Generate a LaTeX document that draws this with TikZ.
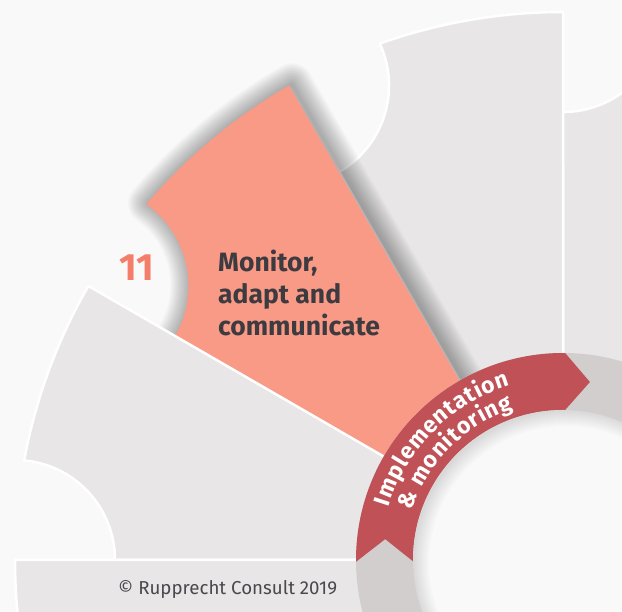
\documentclass[tikz,border=0pt]{standalone}
\usepackage{fontspec}
\setmainfont{Fira Sans}
\usetikzlibrary{decorations.text}
\definecolor{bgc}{HTML}{F9F9F9}
\definecolor{segc}{HTML}{E8E6E7}
\definecolor{salmonc}{HTML}{F99A86}
\definecolor{ribbonc}{HTML}{BF5157}
\definecolor{ringc}{HTML}{D1CECD}
\definecolor{darkc}{HTML}{3D3B40}
\definecolor{numc}{HTML}{F47E6A}
\definecolor{copyc}{HTML}{4A484C}
\newcommand\drawseg[3]{%
  \path[#1] (#2:200pt) -- (#2:548pt)
    arc[start angle=#2, end angle=#3-10.47, radius=548pt]
    arc[start angle=#3+264.765, end angle=#3+180, radius=100pt]
    -- (#3:200pt)
    arc[start angle=#3, end angle=#2, radius=200pt] -- cycle;}
\newcommand\ribbonfont{\fontsize{23}{23}\selectfont\bfseries}
\newcommand\ks{\kern0.8pt}
\begin{document}
\begin{tikzpicture}[x=1pt,y=1pt,
  grayseg/.style={fill=segc, draw=white, line width=2.5pt, line join=round},
  shadowstroke/.style={draw=black, draw opacity=0.023, line width=#1, line join=round, shift={(3,1)}},
  ribbontext/.style={decorate, decoration={text along path, text color=white, text align=center, text={#1}}}]
\useasboundingbox (0,0) rectangle (622,612);
\clip (0,0) rectangle (622,612);
\fill[bgc] (0,0) rectangle (622,612);
\begin{scope}[shift={(563,52)}]
  \drawseg{grayseg}{30}{60}
  \drawseg{grayseg}{60}{90}
  \drawseg{grayseg}{90}{120}
  % soft shadow of the highlighted segment
  \foreach \k in {1,...,14}{\drawseg{shadowstroke=\k*3pt}{120}{150}}
  \drawseg{fill=salmonc}{120}{150}
  \drawseg{grayseg}{150}{180}
  \drawseg{grayseg}{180}{210}
  % ring
  \fill[ringc] (0,0) circle (207pt);
  % ribbon
  \fill[ribbonc] (89.4:207pt) arc[start angle=89.4, end angle=180.5, radius=207pt]
    -- (173.3:179pt) -- (180.5:150pt)
    arc[start angle=180.5, end angle=89.2, radius=150pt]
    -- (81.4:180pt) -- cycle;
  % inner circle with soft inner shadow
  \fill[bgc] (0,0) circle (150pt);
  \begin{scope}
    \clip (0,0) circle (150pt);
    \foreach \k in {1,...,8}
      \draw[black, opacity=0.014, line width=\k*4pt] (3,-3) circle (153pt);
  \end{scope}
  % ribbon texts
  \path[ribbontext={|\ribbonfont|{I\ks}{m\ks}{p\ks}{l\ks}{e\ks}{m\ks}{e\ks}{n\ks}{t\ks}{a\ks}{t\ks}{i\ks}{o\ks}{n}}]
    (175:182pt) arc[start angle=175, end angle=95, radius=182pt];
  \path[ribbontext={|\ribbonfont|{\&\ks}{\ \ks}{m\ks}{o\ks}{n\ks}{i\ks}{t\ks}{o\ks}{r\ks}{i\ks}{n\ks}{g}}]
    (175:159pt) arc[start angle=175, end angle=95, radius=159pt];
\end{scope}
% texts
\node[anchor=base, text=numc, font=\fontsize{38}{38}\selectfont\bfseries, inner sep=0pt] (num) at (137,331) {11};
\node[anchor=base west, text=darkc, font=\fontsize{26.5}{30}\selectfont\bfseries, inner sep=0pt] (t1) at (218,340) {Monitor,};
\node[anchor=base west, text=darkc, font=\fontsize{26.5}{30}\selectfont\bfseries, inner sep=0pt] (t2) at (218,308) {adapt and};
\node[anchor=base west, text=darkc, font=\fontsize{26.5}{30}\selectfont\bfseries, inner sep=0pt] (t3) at (218,276) {communicate};
\node[anchor=base west, text=copyc, font=\fontsize{18.7}{19}\selectfont, inner sep=0pt] (copy) at (118,17) {© Rupprecht Consult 2019};
\end{tikzpicture}
\end{document}
